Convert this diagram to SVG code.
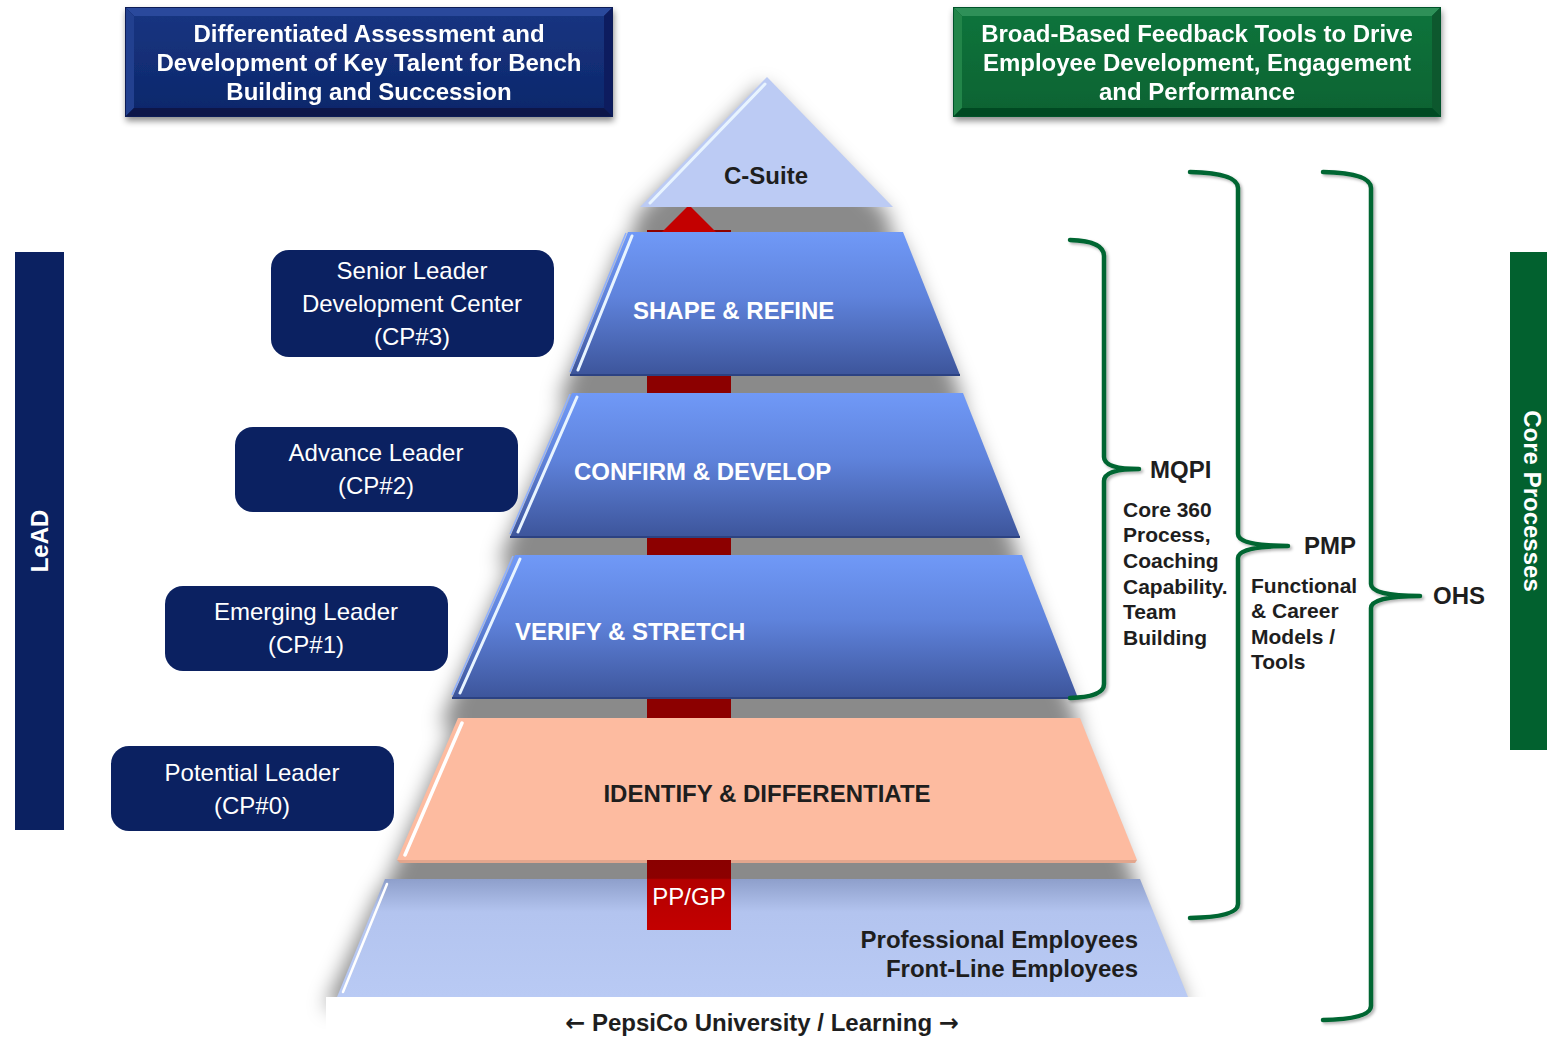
<svg xmlns="http://www.w3.org/2000/svg" width="1547" height="1041" viewBox="0 0 1547 1041">
<defs>
<style>
.t{font-family:"Liberation Sans",Arial,sans-serif;}
.b{font-weight:bold;}
.w{fill:#ffffff;}
.d{fill:#1e1e1e;}
.lbl{fill:#0b2161;}
.arr{font-family:"DejaVu Sans",sans-serif;font-weight:bold;}
.brk{fill:none;stroke:#006633;stroke-width:4.5;stroke-linecap:round;stroke-linejoin:round;}
.hl{fill:none;stroke:#e8f4ff;stroke-width:3;stroke-linecap:round;}
.edge{fill:none;stroke:#8fb0ff;stroke-width:1.5;}
</style>
<linearGradient id="blueG" x1="0" y1="0" x2="0" y2="1">
<stop offset="0" stop-color="#7099f7"/>
<stop offset="0.45" stop-color="#5f83dc"/>
<stop offset="1" stop-color="#3d559b"/>
</linearGradient>
<linearGradient id="baseG" x1="0" y1="0" x2="0" y2="1">
<stop offset="0" stop-color="#8e9fcb"/>
<stop offset="0.28" stop-color="#b3c4ef"/>
<stop offset="1" stop-color="#b9caf4"/>
</linearGradient>
<linearGradient id="ppG" x1="0" y1="0" x2="0" y2="1">
<stop offset="0" stop-color="#8a0000"/>
<stop offset="0.26" stop-color="#8c0000"/>
<stop offset="0.28" stop-color="#b30000"/>
<stop offset="1" stop-color="#c30000"/>
</linearGradient>
<linearGradient id="navyFace" x1="0" y1="0" x2="0" y2="1">
<stop offset="0" stop-color="#163480"/>
<stop offset="1" stop-color="#0e286c"/>
</linearGradient>
<linearGradient id="greenFace" x1="0" y1="0" x2="0" y2="1">
<stop offset="0" stop-color="#0d733b"/>
<stop offset="1" stop-color="#086433"/>
</linearGradient>
<filter id="blur" x="-20%" y="-20%" width="140%" height="160%">
<feGaussianBlur stdDeviation="10"/>
</filter>
<filter id="boxSh" x="-5%" y="-10%" width="110%" height="130%">
<feDropShadow dx="1" dy="4" stdDeviation="3" flood-color="#000" flood-opacity="0.45"/>
</filter>
<filter id="brSh" x="-20%" y="-5%" width="140%" height="110%">
<feDropShadow dx="2" dy="2" stdDeviation="1.5" flood-color="#000" flood-opacity="0.3"/>
</filter>
</defs>

<rect width="1547" height="1041" fill="#ffffff"/>

<!-- header boxes -->
<g id="header-left" filter="url(#boxSh)">
<rect x="125" y="7" width="488" height="110" fill="#0a1d56"/>
<polygon points="126,8 612,8 604,16 134,16" fill="#2a4a9c"/>
<polygon points="126,8 134,16 134,108 126,116" fill="#21418f"/>
<polygon points="612,8 612,116 604,108 604,16" fill="#0a1f5e"/>
<polygon points="126,116 612,116 604,108 134,108" fill="#07184a"/>
<rect x="134" y="16" width="470" height="92" fill="url(#navyFace)"/>
<text class="t b w" font-size="24" text-anchor="middle" x="369" y="42">Differentiated Assessment and</text>
<text class="t b w" font-size="24" text-anchor="middle" x="369" y="71">Development of Key Talent for Bench</text>
<text class="t b w" font-size="24" text-anchor="middle" x="369" y="100">Building and Succession</text>
</g>
<g id="header-right" filter="url(#boxSh)">
<rect x="953" y="7" width="488" height="110" fill="#05522a"/>
<polygon points="954,8 1440,8 1432,16 962,16" fill="#2f9058"/>
<polygon points="954,8 962,16 962,108 954,116" fill="#248549"/>
<polygon points="1440,8 1440,116 1432,108 1432,16" fill="#07592d"/>
<polygon points="954,116 1440,116 1432,108 962,108" fill="#044a23"/>
<rect x="962" y="16" width="470" height="92" fill="url(#greenFace)"/>
<text class="t b w" font-size="24" text-anchor="middle" x="1197" y="42">Broad-Based Feedback Tools to Drive</text>
<text class="t b w" font-size="24" text-anchor="middle" x="1197" y="71">Employee Development, Engagement</text>
<text class="t b w" font-size="24" text-anchor="middle" x="1197" y="100">and Performance</text>
</g>

<!-- side bars -->
<g id="lead-bar">
<rect x="15" y="252" width="49" height="578" fill="#0b2161"/>
<text class="t b w" font-size="24" text-anchor="middle" transform="translate(48,541) rotate(-90)">LeAD</text>
</g>
<g id="core-bar">
<rect x="1510" y="252" width="37" height="498" fill="#02612f"/>
<text class="t b w" font-size="24" text-anchor="middle" transform="translate(1524,501) rotate(90)">Core Processes</text>
</g>

<!-- pyramid shadows (silhouette, gaps filled) -->
<g id="shadows" filter="url(#blur)" fill="#000" fill-opacity="0.46" transform="translate(-4,8)">
<polygon points="767,77 893,207 896,232 636,232 640,207"/>
<polygon points="628,232 903,232 968,393 562,393 570,375"/>
<polygon points="572,393 963,393 1026,555 502,555 510,537"/>
<polygon points="515,555 1022,555 1084,718 444,718 452,698"/>
<polygon points="458,718 1080,718 1142,879 389,879 397,860"/>
<polygon points="385,879 1140,879 1192,1000 329,1000"/>
</g>

<!-- red arrow -->
<g id="red-arrow">
<rect x="647" y="230" width="84" height="632" fill="#8c0000"/>
<polygon points="689,205 716,232 662,232" fill="#c30000"/>
</g>

<!-- pyramid layers -->
<g id="c-suite">
<polygon points="767,77 893,207 640,207" fill="#bccbf4"/>
<line x1="765" y1="84" x2="650" y2="203" class="hl"/>
<text class="t b d" font-size="24" text-anchor="middle" x="766" y="184">C-Suite</text>
</g>
<g id="shape-refine">
<polygon points="628,232 903,232 960,375 570,375" fill="url(#blueG)"/>
<polyline points="570,375 960,375" fill="none" stroke="#2c4282" stroke-width="2"/>
<line x1="632" y1="236" x2="578" y2="370" class="hl"/>
<line x1="626" y1="233" x2="570" y2="372" class="edge"/>
<text class="t b w" font-size="24" x="633" y="319">SHAPE &amp; REFINE</text>
</g>
<g id="confirm-develop">
<polygon points="572,393 963,393 1020,537 510,537" fill="url(#blueG)"/>
<polyline points="510,537 1020,537" fill="none" stroke="#2c4282" stroke-width="2"/>
<line x1="577" y1="397" x2="518" y2="532" class="hl"/>
<line x1="570" y1="394" x2="510" y2="534" class="edge"/>
<text class="t b w" font-size="24" x="574" y="480">CONFIRM &amp; DEVELOP</text>
</g>
<g id="verify-stretch">
<polygon points="515,555 1022,555 1078,698 452,698" fill="url(#blueG)"/>
<polyline points="452,698 1078,698" fill="none" stroke="#2c4282" stroke-width="2"/>
<line x1="520" y1="559" x2="460" y2="693" class="hl"/>
<line x1="513" y1="556" x2="452" y2="695" class="edge"/>
<text class="t b w" font-size="24" x="515" y="640">VERIFY &amp; STRETCH</text>
</g>
<g id="identify-differentiate">
<polygon points="397,860 1137,860 1135,863 400,863" fill="#e3a68d"/>
<polygon points="458,718 1080,718 1137,860 397,860" fill="#fdbba0"/>
<line x1="462" y1="723" x2="405" y2="855" stroke="#ffffff" stroke-width="3.5" stroke-linecap="round"/>
<text class="t b d" font-size="24" text-anchor="middle" x="767" y="802">IDENTIFY &amp; DIFFERENTIATE</text>
</g>
<g id="base-layer">
<polygon points="385,879 1140,879 1188,997 337,997" fill="url(#baseG)"/>
<line x1="387" y1="884" x2="343" y2="992" stroke="#ffffff" stroke-width="2.5" stroke-linecap="round"/>
<text class="t b d" font-size="24" text-anchor="end" x="1138" y="948">Professional Employees</text>
<text class="t b d" font-size="24" text-anchor="end" x="1138" y="977">Front-Line Employees</text>
</g>
<g id="pp-gp">
<rect x="647" y="860" width="84" height="70" fill="url(#ppG)"/>
<text class="t w" font-size="24" text-anchor="middle" x="689" y="905">PP/GP</text>
</g>

<!-- bottom strip -->
<g id="pepsico-university">
<rect x="326" y="997" width="1221" height="44" fill="#ffffff"/>
<text class="t b d" font-size="24" text-anchor="middle" x="762" y="1031"><tspan class="arr">←</tspan> PepsiCo University / Learning <tspan class="arr">→</tspan></text>
</g>

<!-- leader labels -->
<g id="senior-leader">
<rect x="271" y="250" width="283" height="107" rx="18" class="lbl"/>
<text class="t w" font-size="24" text-anchor="middle" x="412" y="279">Senior Leader</text>
<text class="t w" font-size="24" text-anchor="middle" x="412" y="312">Development Center</text>
<text class="t w" font-size="24" text-anchor="middle" x="412" y="345">(CP#3)</text>
</g>
<g id="advance-leader">
<rect x="235" y="427" width="283" height="85" rx="18" class="lbl"/>
<text class="t w" font-size="24" text-anchor="middle" x="376" y="461">Advance Leader</text>
<text class="t w" font-size="24" text-anchor="middle" x="376" y="494">(CP#2)</text>
</g>
<g id="emerging-leader">
<rect x="165" y="586" width="283" height="85" rx="18" class="lbl"/>
<text class="t w" font-size="24" text-anchor="middle" x="306" y="620">Emerging Leader</text>
<text class="t w" font-size="24" text-anchor="middle" x="306" y="653">(CP#1)</text>
</g>
<g id="potential-leader">
<rect x="111" y="746" width="283" height="85" rx="18" class="lbl"/>
<text class="t w" font-size="24" text-anchor="middle" x="252" y="781">Potential Leader</text>
<text class="t w" font-size="24" text-anchor="middle" x="252" y="814">(CP#0)</text>
</g>

<!-- brackets -->
<g id="connectors" filter="url(#brSh)">
<path class="brk" d="M1070,240 Q1104,241 1104,256 L1104,457 Q1104,469 1139,469 Q1104,469 1104,481 L1104,684 Q1104,697 1070,698"/>
<path class="brk" d="M1190,172 Q1238,173 1238,188 L1238,534 Q1238,546 1288,546 Q1238,546 1238,558 L1238,904 Q1238,917 1190,918"/>
<path class="brk" d="M1323,172 Q1371,173 1371,188 L1371,584 Q1371,596 1420,596 Q1371,596 1371,608 L1371,1006 Q1371,1019 1323,1020"/>
</g>

<g id="mqpi">
<text class="t b d" font-size="24" x="1150" y="478">MQPI</text>
<text class="t b d" font-size="21" x="1123" y="517">Core 360</text>
<text class="t b d" font-size="21" x="1123" y="542">Process,</text>
<text class="t b d" font-size="21" x="1123" y="568">Coaching</text>
<text class="t b d" font-size="21" x="1123" y="594">Capability.</text>
<text class="t b d" font-size="21" x="1123" y="619">Team</text>
<text class="t b d" font-size="21" x="1123" y="645">Building</text>
</g>
<g id="pmp">
<text class="t b d" font-size="24" x="1304" y="554">PMP</text>
<text class="t b d" font-size="21" x="1251" y="593">Functional</text>
<text class="t b d" font-size="21" x="1251" y="618">&amp; Career</text>
<text class="t b d" font-size="21" x="1251" y="644">Models /</text>
<text class="t b d" font-size="21" x="1251" y="669">Tools</text>
</g>
<g id="ohs">
<text class="t b d" font-size="24" x="1433" y="604">OHS</text>
</g>
</svg>
